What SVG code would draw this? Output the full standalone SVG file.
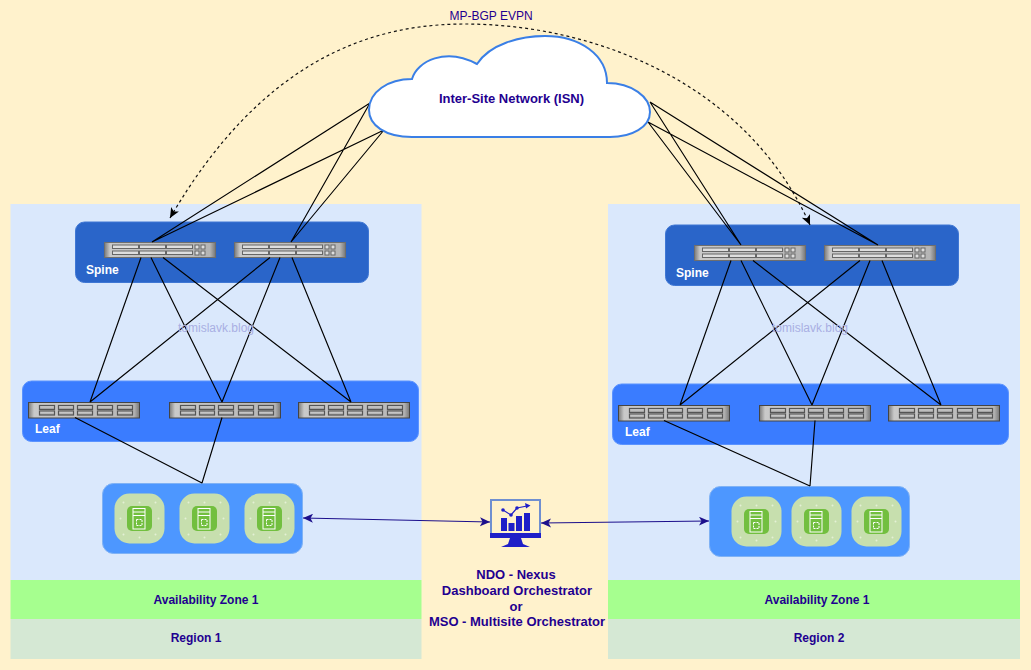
<svg xmlns="http://www.w3.org/2000/svg" width="1031" height="670" viewBox="0 0 1031 670">
<style>
text{font-family:"Liberation Sans",Arial,sans-serif;font-size:12px;text-anchor:middle}
.t{fill:#1f0090}
.b{font-weight:bold}
.big{font-size:13px}
.w{fill:#fff;font-weight:bold;text-anchor:start}
.wm{fill:#a9afe3}
.l{fill:none;stroke:#000;stroke-width:1.15}
.a{fill:none;stroke:#1c0f8c;stroke-width:1.2;marker-start:url(#ab);marker-end:url(#ae)}
.d{fill:none;stroke:#111;stroke-width:1.2;stroke-dasharray:3 3;marker-start:url(#k1);marker-end:url(#k)}
</style>
<defs>
<marker id="ae" markerWidth="12" markerHeight="10" refX="10" refY="4.500" orient="auto" markerUnits="userSpaceOnUse"><path d="M0,0L10,4.500L0,9L2.500,4.500Z" fill="#1c0f8c"/></marker>
<marker id="ab" markerWidth="12" markerHeight="10" refX="0" refY="4.500" orient="auto" markerUnits="userSpaceOnUse"><path d="M10,0L0,4.500L10,9L7.500,4.500Z" fill="#1c0f8c"/></marker>
<marker id="k" markerWidth="12" markerHeight="10" refX="10" refY="4.500" orient="auto" markerUnits="userSpaceOnUse"><path d="M0,0L10,4.500L0,9L2.500,4.500Z" fill="#000"/></marker>
<marker id="k1" markerWidth="12" markerHeight="10" refX="0" refY="4.500" orient="auto" markerUnits="userSpaceOnUse"><path d="M10,0L0,4.500L10,9L7.500,4.500Z" fill="#000"/></marker>
<linearGradient id="lg" x1="0" y1="0" x2="1" y2="0"><stop offset="0" stop-color="#7a7a7a"/><stop offset=".05" stop-color="#c9c9c9"/><stop offset=".95" stop-color="#b5b5b5"/><stop offset="1" stop-color="#777"/></linearGradient>
<linearGradient id="sg" x1="0" y1="0" x2="0" y2="1"><stop offset="0" stop-color="#dcdcdc"/><stop offset="1" stop-color="#a0a0a0"/></linearGradient>
<g id="spine">
<rect x="0" y="0" width="111" height="15" fill="url(#lg)" stroke="#6e6e6e" stroke-width="1"/>
<g fill="#dedede" stroke="#666" stroke-width="1">
<rect x="8" y="2.500" width="26" height="3.500"/><rect x="35" y="2.500" width="26" height="3.500"/><rect x="62" y="2.500" width="26" height="3.500"/>
<rect x="8" y="8.500" width="26" height="3.500"/><rect x="35" y="8.500" width="26" height="3.500"/><rect x="62" y="8.500" width="26" height="3.500"/>
<rect x="90.500" y="2.500" width="4" height="4"/><rect x="96.500" y="2.500" width="4" height="4"/>
<rect x="90.500" y="8.500" width="4" height="4"/><rect x="96.500" y="8.500" width="4" height="4"/>
</g>
</g>
<g id="leaf">
<rect x="0" y="0" width="111" height="15.500" fill="url(#lg)" stroke="#444" stroke-width="1"/>
<g fill="url(#sg)" stroke="#555" stroke-width="1.200">
<rect x="11" y="3" width="15" height="4"/><rect x="30" y="3" width="15" height="4"/><rect x="49" y="3" width="15" height="4"/><rect x="69" y="3" width="15" height="4"/><rect x="89" y="3" width="15" height="4"/>
<rect x="11" y="8.500" width="15" height="4"/><rect x="30" y="8.500" width="15" height="4"/><rect x="49" y="8.500" width="15" height="4"/><rect x="69" y="8.500" width="15" height="4"/><rect x="89" y="8.500" width="15" height="4"/>
</g>
</g>
<g id="srv">
<rect x="0" y="0" width="50" height="50" rx="15" fill="#c7dfae"/>
<rect x="12.500" y="12.500" width="25" height="25" rx="5" fill="#72bf3f"/>
<g fill="none" stroke="#fff" stroke-width="1">
<rect x="18.500" y="15" width="12" height="20.500"/>
<path d="M18.500,18.500H30.500M18.500,22H30.500"/>
<rect x="22" y="26" width="5.500" height="6" stroke-dasharray="2 1"/>
</g>
<g fill="#e4f0d6">
<circle cx="9" cy="9" r="1"/><circle cx="25" cy="9" r="1"/><circle cx="41" cy="9" r="1"/>
<circle cx="6" cy="25" r="1"/><circle cx="44" cy="25" r="1"/>
<circle cx="9" cy="41" r="1"/><circle cx="25" cy="44" r="1"/><circle cx="41" cy="41" r="1"/>
</g>
</g>
</defs>
<rect width="1031" height="670" fill="#fff2cc"/>
<g id="site-1">
<rect x="10.500" y="204" width="411" height="376" fill="#dae8fc"/>
<rect x="10.500" y="580" width="411" height="39" fill="#a6ff8f"/>
<rect x="10.500" y="619" width="411" height="40" fill="#d5e8d4"/>
<text class="t b" x="206" y="604">Availability Zone 1</text>
<text class="t b" x="196" y="642">Region 1</text>
</g>
<g id="site-2">
<rect x="608" y="204" width="412" height="376" fill="#dae8fc"/>
<rect x="608" y="580" width="412" height="39" fill="#a6ff8f"/>
<rect x="608" y="619" width="412" height="40" fill="#d5e8d4"/>
<text class="t b" x="817" y="604">Availability Zone 1</text>
<text class="t b" x="819" y="642">Region 2</text>
</g>
<g id="spine-1">
<rect x="75.500" y="222" width="293" height="60.500" rx="9" fill="#2a65c9" stroke="#3f77d4"/>
<use href="#spine" x="104.500" y="242.500"/><use href="#spine" x="234.500" y="242.500"/>
<text class="w" x="86" y="274">Spine</text>
</g>
<g id="leaf-1">
<rect x="22.500" y="381" width="396" height="60.500" rx="9" fill="#3a7cff" stroke="#5b93ff"/>
<use href="#leaf" x="28.500" y="402.500"/><use href="#leaf" x="169.500" y="402.500"/><use href="#leaf" x="298.500" y="402.500"/>
<text class="w" x="35" y="433">Leaf</text>
</g>
<g id="servers-1">
<rect x="102.500" y="483.500" width="200" height="70" rx="11" fill="#4d97ff" stroke="#7fb2f5"/>
<use href="#srv" x="114.500" y="493.500"/><use href="#srv" x="179.500" y="493.500"/><use href="#srv" x="244.500" y="493.500"/>
</g>
<g id="spine-2">
<rect x="665.500" y="225" width="293" height="60.500" rx="9" fill="#2a65c9" stroke="#3f77d4"/>
<use href="#spine" x="694.500" y="245.500"/><use href="#spine" x="824.500" y="245.500"/>
<text class="w" x="676" y="277">Spine</text>
</g>
<g id="leaf-2">
<rect x="612.500" y="384" width="396" height="60.500" rx="9" fill="#3a7cff" stroke="#5b93ff"/>
<use href="#leaf" x="618.500" y="405.500"/><use href="#leaf" x="759.500" y="405.500"/><use href="#leaf" x="888.500" y="405.500"/>
<text class="w" x="625" y="436">Leaf</text>
</g>
<g id="servers-2">
<rect x="709.500" y="486.500" width="200" height="70" rx="11" fill="#4d97ff" stroke="#7fb2f5"/>
<use href="#srv" x="731.500" y="496.500"/><use href="#srv" x="791.500" y="496.500"/><use href="#srv" x="851.500" y="496.500"/>
</g>
<g id="connectors">
<path class="d" d="M170,218C262,60 370,24 465,24C590,24 745,80 810,225"/>
<path class="l" d="M370,103L152,242M384,130L152,242M370,103L291,242M384,130L291,242"/>
<path class="l" d="M650,102L741,245M648,122L741,245M650,102L878,245M648,122L878,245"/>
<path class="l" d="M141,257.500L90,402M151,257.500L222,402M163,257.500L351,402M270,257.500L90,402M280,257.500L222,402M292,257.500L351,402"/>
<path class="l" d="M731,260.500L680,405M741,260.500L812,405M753,260.500L941,405M860,260.500L680,405M870,260.500L812,405M882,260.500L941,405"/>
<path class="l" d="M75,417.500L202,483M222,417.500L202,483M664,420.500L810,486M815,420.500L810,486"/>
<path class="a" d="M303,518L490,522"/>
<path class="a" d="M541,523L709,521"/>
</g>
<g id="isn">
<path d="M412,137C385,137 369,125 369,110C369,92 388,79 412,79C417,61 446,47 477,64C490,44 520,36 545,36C580,36 607,55 607,83C632,83 650,97 650,112C650,127 632,137 610,137Z" fill="#fff" stroke="#3a7fe6" stroke-width="2"/>
<text class="t b big" x="511.500" y="103">Inter-Site Network (ISN)</text>
</g>
<g id="ndo">
<rect x="491" y="500" width="49" height="34" fill="none" stroke="#6f8fd0" stroke-width="2"/>
<rect x="490" y="533" width="51" height="5" fill="#1f1fc8"/>
<path d="M510,538H521L523,544L530,547H501L508,544Z" fill="#1f1fc8"/>
<g fill="#1f1fc8"><rect x="501" y="518" width="6" height="13"/><rect x="508.500" y="523" width="6" height="8"/><rect x="516" y="516" width="6" height="15"/><rect x="524" y="513" width="6" height="18"/></g>
<path d="M503,510L511,515L517,508L527,506" fill="none" stroke="#1f1fc8" stroke-width="1.200"/>
<g fill="#1f1fc8"><circle cx="503" cy="510" r="1.800"/><circle cx="511" cy="515" r="1.800"/><circle cx="517" cy="508" r="1.800"/><path d="M525,503L530.500,505.500L526,508.500Z"/></g>
<text class="t b big" x="516" y="579">NDO - Nexus</text>
<text class="t b big" x="517" y="595">Dashboard Orchestrator</text>
<text class="t b big" x="516" y="611">or</text>
<text class="t b big" x="517" y="626">MSO - Multisite Orchestrator</text>
</g>
<text class="t" x="491" y="20">MP-BGP EVPN</text>
<text class="wm" x="216" y="332">tomislavk.blog</text>
<text class="wm" x="810" y="332">tomislavk.blog</text>
</svg>
